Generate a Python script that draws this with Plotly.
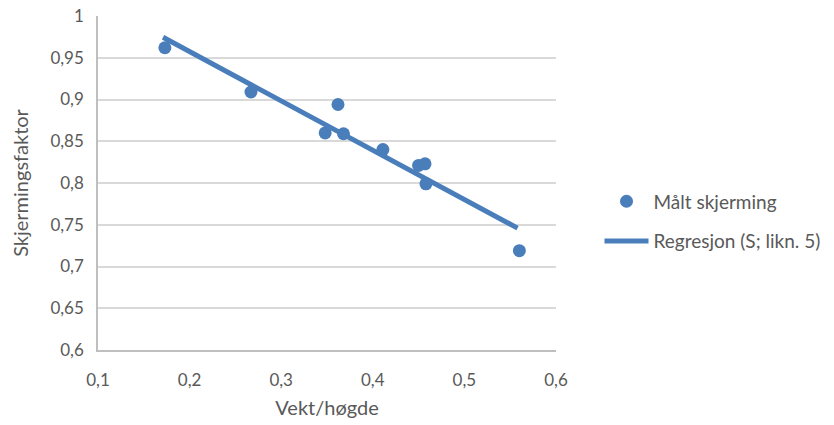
import plotly.graph_objects as go

# Measured data
vekt_hogde = [0.173, 0.267, 0.362, 0.348, 0.368, 0.411, 0.450, 0.457, 0.458, 0.560]
skjerming = [0.962, 0.909, 0.894, 0.860, 0.859, 0.840, 0.821, 0.823, 0.799, 0.719]

# Regression line (S; likn. 5)
reg_x = [0.171, 0.558]
reg_y = [0.9745, 0.746]

# Tick labels
x_ticks = [0.1, 0.2, 0.3, 0.4, 0.5, 0.6]
x_ticklabels = ["0,1", "0,2", "0,3", "0,4", "0,5", "0,6"]
y_ticks = [0.6, 0.65, 0.7, 0.75, 0.8, 0.85, 0.9, 0.95, 1.0]
y_ticklabels = ["0,6", "0,65", "0,7", "0,75", "0,8", "0,85", "0,9", "0,95", "1"]

blue = "#4a7ebb"
grey_text = "#595959"
font_family = "Lato, 'Open Sans', sans-serif"

fig = go.Figure()
fig.add_trace(go.Scatter(
    x=vekt_hogde, y=skjerming, mode="markers", name="Målt skjerming",
    marker=dict(color=blue, size=13), legendgroup="a",
))
fig.add_trace(go.Scatter(
    x=reg_x, y=reg_y, mode="lines", name="Regresjon (S; likn. 5)",
    line=dict(color=blue, width=5), legendgroup="b",
))

fig.update_layout(
    width=834, height=425,
    margin=dict(l=98, r=278, t=16, b=75, autoexpand=False),
    paper_bgcolor="white", plot_bgcolor="white",
    font=dict(family=font_family, color=grey_text, size=17),
    legend=dict(x=1.095, y=0.385, xanchor="left", yanchor="middle",
                font=dict(size=19, color=grey_text), tracegroupgap=12,
                itemwidth=44),
    showlegend=True,
)
fig.update_xaxes(
    range=[0.1, 0.6], tickvals=x_ticks, ticktext=x_ticklabels,
    showgrid=False, showline=True, linecolor="#bfbfbf", linewidth=1.5,
    zeroline=False, ticks="", ticklen=0, automargin=False,
    ticklabelstandoff=14,
    title=dict(text="Vekt/høgde", font=dict(size=20, color=grey_text), standoff=12),
    tickfont=dict(size=17, color=grey_text),
)
fig.update_yaxes(
    range=[0.6, 1.0], tickvals=y_ticks, ticktext=y_ticklabels,
    showgrid=True, gridcolor="#d9d9d9", gridwidth=1.5,
    showline=True, linecolor="#bfbfbf", linewidth=1.5,
    zeroline=False, ticks="", automargin=False,
    ticklabelstandoff=9,
    title=dict(text="Skjermingsfaktor", font=dict(size=20, color=grey_text), standoff=16),
    tickfont=dict(size=17, color=grey_text),
)

fig.write_html("out.html", config={"displayModeBar": False},
               post_script="document.body.style.margin='0';")
